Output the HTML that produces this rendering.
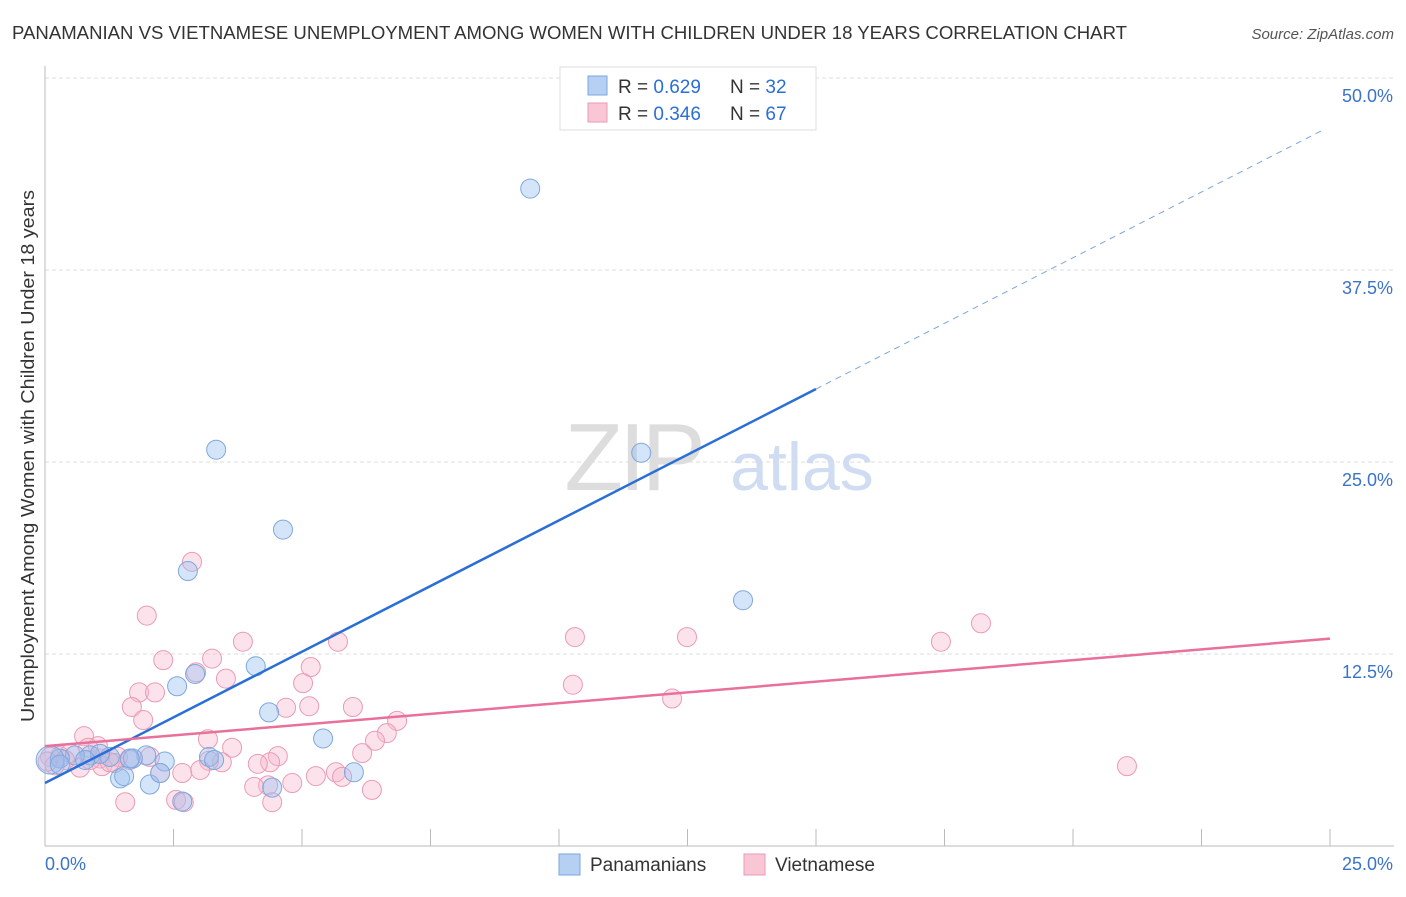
<!DOCTYPE html>
<html><head><meta charset="utf-8"><style>
body{margin:0;background:#fff;font-family:"Liberation Sans",sans-serif;}
svg text{font-family:"Liberation Sans",sans-serif;}
</style></head><body>
<svg id="chart" width="1406" height="892" viewBox="0 0 1406 892" xmlns="http://www.w3.org/2000/svg">
<text x="12" y="39" font-size="18" fill="#333" textLength="1115" lengthAdjust="spacingAndGlyphs">PANAMANIAN VS VIETNAMESE UNEMPLOYMENT AMONG WOMEN WITH CHILDREN UNDER 18 YEARS CORRELATION CHART</text>
<text x="1394" y="39" font-size="15" fill="#555" text-anchor="end" font-style="italic">Source: ZipAtlas.com</text>
<g id="grid"></g>
<g>
<text x="633" y="490" font-size="96" fill="#ddd" text-anchor="middle" font-family="Liberation Serif" letter-spacing="-4">ZIP</text>
<text x="802" y="490" font-size="68" fill="#cfdcf2" text-anchor="middle">atlas</text>
</g>
<g id="points"></g>
<g id="lines"></g>
<text transform="translate(34,456) rotate(-90)" font-size="18" fill="#333" text-anchor="middle" textLength="532" lengthAdjust="spacingAndGlyphs">Unemployment Among Women with Children Under 18 years</text>
<g>
<rect x="560" y="67" width="256" height="63" fill="#fff" stroke="#ddd"/>
<rect x="588" y="76" width="19" height="19" fill="#b6d0f3" stroke="#7aa6dd"/>
<rect x="588" y="103" width="19" height="19" fill="#f9c6d6" stroke="#e99ab4"/>
<text x="618" y="93" font-size="19" fill="#333">R = <tspan fill="#2a6fd6">0.629</tspan></text>
<text x="730" y="93" font-size="19" fill="#333">N = <tspan fill="#2a6fd6">32</tspan></text>
<text x="618" y="120" font-size="19" fill="#333">R = <tspan fill="#2a6fd6">0.346</tspan></text>
<text x="730" y="120" font-size="19" fill="#333">N = <tspan fill="#2a6fd6">67</tspan></text>
</g>
<g>
<rect x="559" y="854" width="21" height="21" fill="#b6d0f3" stroke="#7aa6dd"/>
<text x="590" y="871" font-size="19" fill="#333">Panamanians</text>
<rect x="744" y="854" width="21" height="21" fill="#f9c6d6" stroke="#e99ab4"/>
<text x="775" y="871" font-size="19" fill="#333">Vietnamese</text>
</g>
</svg>
<script>
const yTicks=[12.5,25,37.5,50];
const yTickLabels=["12.5%","25.0%","37.5%","50.0%"];
const xTickCount=10;
const xLabels=["0.0%","25.0%"];
const panX=[9.44,3.33,11.6,4.63,2.78,13.58,4.1,2.92,2.57,4.36,5.41,3.19,1.97,2.33,3.29,1.71,1.26,0.88,1.07,0.58,0.29,0.1,1.46,2.04,2.24,1.54,2.67,4.42,6.01,0.29,0.78,1.65];
const panY=[42.8,25.8,25.6,20.6,17.9,16.0,11.7,11.2,10.4,8.7,7.0,5.8,5.9,5.5,5.6,5.7,5.8,5.9,6.0,5.9,5.7,5.6,4.4,4.0,4.75,4.55,2.9,3.8,4.8,5.3,5.6,5.7];
const vieX=[2.86,1.98,3.85,5.7,10.31,12.49,17.43,18.21,2.3,3.25,5.17,2.94,3.52,5.02,1.83,2.14,10.27,12.2,1.69,4.69,5.14,5.99,1.91,6.85,6.65,0.76,3.17,6.42,3.64,4.53,6.17,4.38,4.14,3.44,3.19,2.04,1.42,1.07,1.03,0.49,0.29,0.1,0.68,1.11,1.36,0.88,2.67,2.24,5.27,5.66,5.78,21.05,4.81,4.34,4.07,6.36,1.56,2.55,4.42,2.7,0.39,1.26,1.65,3.02,0.19,0.05,0.84];
const vieY=[18.5,15.0,13.3,13.3,13.6,13.6,13.3,14.5,12.1,12.2,11.65,11.3,10.9,10.6,10.0,10.0,10.5,9.6,9.05,9.0,9.1,9.05,8.2,8.15,7.35,7.15,6.95,6.85,6.4,5.85,6.05,5.45,5.35,5.45,5.55,5.8,5.8,5.7,6.5,6.05,5.85,5.8,5.1,5.2,5.4,5.6,4.75,4.75,4.55,4.8,4.5,5.2,4.1,3.95,3.85,3.65,2.85,3.0,2.85,2.85,5.6,5.45,5.6,4.95,5.25,5.5,6.4];
const panTrend=[4.1,1.71]; // intercept, slope
const panSolidEnd=15, panDashEnd=24.9;
const vieTrend=[6.5,0.28];
const X0=45,X1=1330,Y0=846,PXPER=192/12.5;
const sx=v=>X0+(v/25)*(X1-X0);
const sy=v=>Y0-v*PXPER;
const NS="http://www.w3.org/2000/svg";
function mk(tag,attrs,parent){const e=document.createElementNS(NS,tag);for(const k in attrs)e.setAttribute(k,attrs[k]);parent.appendChild(e);return e;}
const grid=document.getElementById('grid');
yTicks.forEach((t,i)=>{
 const l=mk('line',{x1:X0,x2:1394,y1:sy(t),y2:sy(t),stroke:'#ddd','stroke-dasharray':'4,3'},grid);
 
 
 const tx=mk('text',{x:1393,y:sy(t)+24,'font-size':18,fill:'#3b73c8','text-anchor':'end'},grid);
 tx.textContent=yTickLabels[i];
 
 
});
const ax=mk('line',{x1:X0,x2:X0,y1:66,y2:Y0,stroke:'#bbb'},grid);


const bx=mk('line',{x1:X0,x2:1394,y1:Y0,y2:Y0,stroke:'#bbb'},grid);


for(let i=0;i<=xTickCount;i++){
 const t=mk('line',{x1:sx(i*2.5),x2:sx(i*2.5),y1:Y0,y2:Y0-17,stroke:'#bbb'},grid);
 
 
}
const xl0=mk('text',{x:45,y:870,'font-size':18,fill:'#3b73c8'},grid);xl0.textContent=xLabels[0];


const xl1=mk('text',{x:1393,y:870,'font-size':18,fill:'#3b73c8','text-anchor':'end'},grid);xl1.textContent=xLabels[1];


const pts=document.getElementById('points');
vieX.forEach((x,i)=>{
 const c=mk('circle',{cx:sx(x),cy:sy(vieY[i]),r:9.5,fill:'rgba(248,185,205,0.4)',stroke:'#eb9ab5','stroke-width':1},pts);
 
 
});
panX.forEach((x,i)=>{
 const c=mk('circle',{cx:sx(x),cy:sy(panY[i]),r:(i===21?14:9.5),fill:'rgba(150,190,240,0.4)',stroke:'#7ea8de','stroke-width':1},pts);
 
 
});
const lines=document.getElementById('lines');
const pl=mk('line',{x1:sx(0),y1:sy(panTrend[0]),x2:sx(panSolidEnd),y2:sy(panTrend[0]+panTrend[1]*panSolidEnd),stroke:'#2a6fd6','stroke-width':2.5},lines);


const pd=mk('line',{x1:sx(panSolidEnd),y1:sy(panTrend[0]+panTrend[1]*panSolidEnd),x2:sx(panDashEnd),y2:sy(panTrend[0]+panTrend[1]*panDashEnd),stroke:'#7aa6dd','stroke-width':1,'stroke-dasharray':'6,5'},lines);


const vl=mk('line',{x1:sx(0),y1:sy(vieTrend[0]),x2:sx(25),y2:sy(vieTrend[0]+vieTrend[1]*25),stroke:'#e8709a','stroke-width':2.5},lines);


</script>
</body></html>
